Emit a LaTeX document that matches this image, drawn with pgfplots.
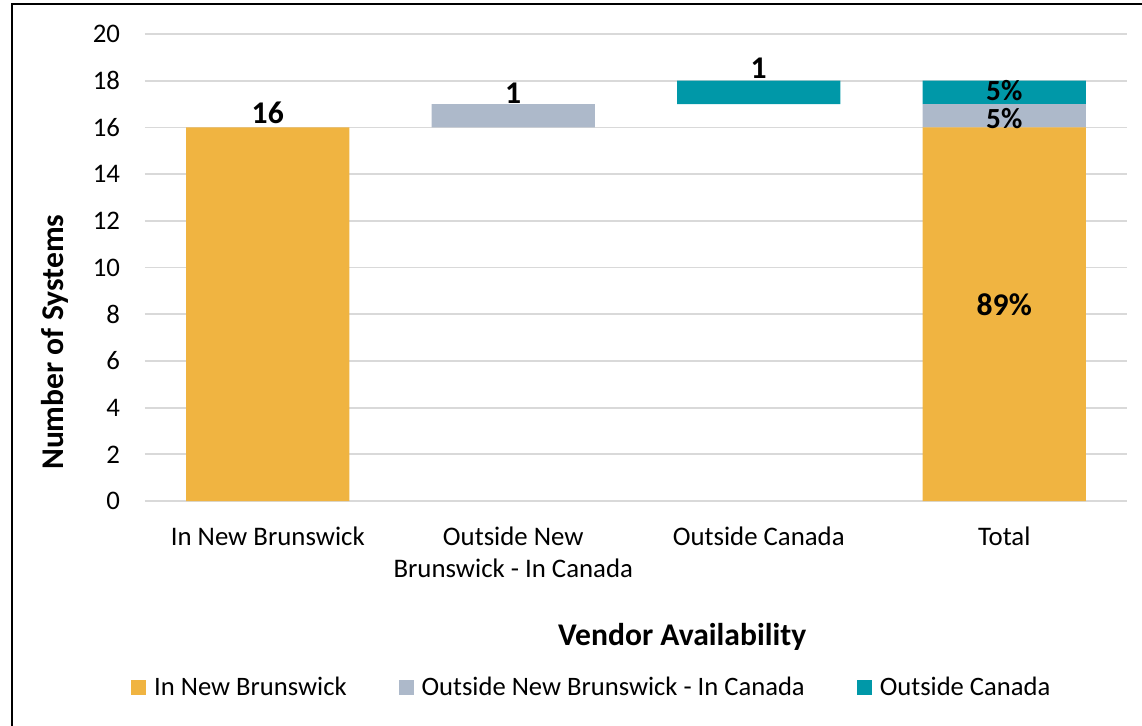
\documentclass[border=0pt]{standalone}
\usepackage{pgfplots}
\pgfplotsset{compat=1.18}
\usepackage{fontspec}
\setmainfont{Carlito}
\definecolor{cOrange}{HTML}{F0B441}
\definecolor{cGray}{HTML}{ADB9CA}
\definecolor{cTeal}{HTML}{0098A8}
\definecolor{cGrid}{HTML}{D9D9D9}
\tikzset{dlab/.style={font=\fontsize{15.8}{18}\selectfont\bfseries, inner sep=0pt}}
\tikzset{slab/.style={font=\fontsize{14.6}{16}\selectfont\bfseries, inner sep=0pt}}
\pgfplotsset{sqlegend/.style={legend image code/.code={\fill[##1] (0pt,-3.75pt) rectangle (7.5pt,3.75pt);}}}
\begin{document}
\begin{tikzpicture}
\useasboundingbox (0pt,0pt) rectangle (571pt,362.5pt);
\draw[line width=1pt, black] (6pt,-10pt) -- (6pt,360.5pt) -- (590pt,360.5pt);
\begin{axis}[
  at={(72.5pt,112pt)}, anchor=south west,
  scale only axis,
  width=491pt, height=233.5pt,
  ybar stacked,
  bar width=0.664,
  xmin=-0.5, xmax=3.5,
  ymin=0, ymax=20,
  ytick={0,2,...,20},
  xtick={0,1,2,3},
  xticklabels={In New Brunswick,{Outside New\\Brunswick - In Canada},Outside Canada,Total},
  major tick length=0pt,
  axis line style={draw=none},
  ymajorgrids=true,
  grid style={cGrid, line width=0.9pt},
  /pgf/number format/assume math mode=true,
  tick label style={font=\fontsize{13.4}{16}\selectfont, black},
  yticklabel style={anchor=east, xshift=-9pt},
  xticklabel style={align=center, anchor=north, yshift=-9.5pt},
  legend style={at={(0.456,-0.40)}, anchor=center, draw=none, fill=none,
    legend columns=3, font=\fontsize{13.3}{16}\selectfont,
    /tikz/every odd column/.append style={column sep=2pt},
    /tikz/every even column/.append style={column sep=24pt}},
  legend cell align=left,
  clip=false,
]
\addplot[draw=none, fill=none, forget plot] coordinates {(0,0) (1,16) (2,17) (3,0)};
\addplot[draw=none, fill=cOrange, sqlegend] coordinates {(0,16) (1,0) (2,0) (3,16)};
\addlegendentry{In New Brunswick}
\addplot[draw=none, fill=cGray, sqlegend] coordinates {(0,0) (1,1) (2,0) (3,1)};
\addlegendentry{Outside New Brunswick - In Canada}
\addplot[draw=none, fill=cTeal, sqlegend] coordinates {(0,0) (1,0) (2,1) (3,1)};
\addlegendentry{Outside Canada}
\draw[cGrid, line width=0.9pt] (rel axis cs:0,0) -- (rel axis cs:1,0);
\coordinate (l1) at (axis cs:0,16.62);
\coordinate (l2) at (axis cs:1,17.47);
\coordinate (l3) at (axis cs:2,18.54);
\coordinate (l4) at (axis cs:3,17.56);
\coordinate (l5) at (axis cs:3,16.38);
\coordinate (l6) at (axis cs:3,8.39);
\node[font=\fontsize{15.8}{19}\selectfont\bfseries, rotate=90] at (rel axis cs:-0.0917,0.34) {Number of Systems};
\node[font=\fontsize{15.8}{19}\selectfont\bfseries] at (rel axis cs:0.547,-0.291) {Vendor Availability};
\end{axis}
\node[dlab] at (l1) {16};
\node[dlab] at (l2) {1};
\node[dlab] at (l3) {1};
\node[slab] at (l4) {5\%};
\node[slab] at (l5) {5\%};
\node[dlab] at (l6) {89\%};
\end{tikzpicture}
\end{document}
